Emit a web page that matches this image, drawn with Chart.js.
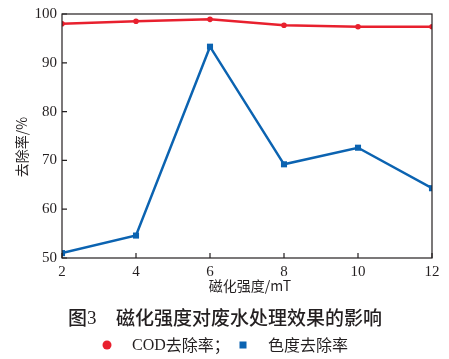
<!DOCTYPE html>
<html><head><meta charset="utf-8">
<script src="https://cdn.jsdelivr.net/npm/chart.js@4"></script>
<style>html,body{margin:0;padding:0;background:#fff}#wrap{width:449px;height:359px;position:relative}
.pre{position:absolute;left:-999px;top:0;font-size:15px}</style>
</head><body>
<span class="pre" style="font-family:'Liberation Serif'">0123456789 COD</span>
<span class="pre" style="font-family:'DejaVu Serif'">0123456789</span>
<span class="pre" style="font-family:'Noto Sans CJK SC'">磁化强度</span>
<div id="wrap"><canvas id="c" width="449" height="359"></canvas></div>
<script>
const fieldStrength = [2, 4, 6, 8, 10, 12];
const codRemoval = [98.0, 98.5, 98.9, 97.7, 97.4, 97.4];
const colorRemoval = [51.0, 54.6, 93.3, 69.2, 72.6, 64.3];
const yTicks = [50, 60, 70, 80, 90, 100];
const xTitle = '磁化强度/mT';
const yTitle = '去除率/%';
const figTitleNum = '图3';
const figTitle = '磁化强度对废水处理效果的影响';
const legendCod = 'COD去除率；';
const legendColor = '色度去除率';

const RED = '#e8202e', BLUE = '#0b63b1', INK = '#231f20';
const SERIF = '"Liberation Serif", "DejaVu Serif", serif';
const CJK = '"Noto Sans CJK SC", sans-serif';

const toPts = arr => arr.map((v, i) => ({x: fieldStrength[i], y: v}));

const decor = {
  id: 'decor',
  afterDraw(chart) {
    const ctx = chart.ctx, a = chart.chartArea;
    const xs = chart.scales.x, ys = chart.scales.y;
    ctx.save();
    ctx.strokeStyle = INK; ctx.lineWidth = 1.2;
    ctx.strokeRect(a.left, a.top, a.right - a.left, a.bottom - a.top);
    ctx.beginPath();
    fieldStrength.forEach(v => { const p = xs.getPixelForValue(v); ctx.moveTo(p, a.bottom); ctx.lineTo(p, a.bottom - 5); });
    yTicks.forEach(v => { const p = ys.getPixelForValue(v); ctx.moveTo(a.left, p); ctx.lineTo(a.left + 5, p); });
    ctx.stroke();
    ctx.fillStyle = INK; ctx.textBaseline = 'middle';
    ctx.font = '14px ' + CJK; ctx.textAlign = 'center';
    ctx.fillText(xTitle, (a.left + a.right) / 2 + 3, 286);
    ctx.save(); ctx.translate(22, 147); ctx.rotate(-Math.PI / 2);
    ctx.fillText(yTitle, 0, 0); ctx.restore();
    ctx.textAlign = 'left';
    ctx.font = '500 19px ' + CJK;
    ctx.fillText('图', 68, 318);
    ctx.font = '19px ' + SERIF;
    ctx.fillText('3', 87, 319);
    ctx.font = '500 19px ' + CJK;
    ctx.fillText(figTitle, 116, 318);
    ctx.fillStyle = RED;
    ctx.beginPath(); ctx.arc(107, 345, 4.5, 0, Math.PI * 2); ctx.fill();
    ctx.fillStyle = BLUE;
    ctx.fillRect(239.5, 341.5, 7, 7);
    ctx.fillStyle = INK;
    ctx.font = '16px ' + SERIF;
    ctx.fillText('COD', 132, 346);
    const w = ctx.measureText('COD').width;
    ctx.font = '16px ' + CJK;
    ctx.fillText(legendCod.slice(3), 132 + w, 345);
    ctx.fillText(legendColor, 268, 345);
    ctx.restore();
  }
};

function draw() {
  new Chart(document.getElementById('c'), {
    type: 'line',
    data: {
      datasets: [
        {label: 'COD去除率', data: toPts(codRemoval), borderColor: RED, backgroundColor: RED,
         borderWidth: 2.5, pointStyle: 'circle', pointRadius: 2.8, pointBorderWidth: 0, tension: 0},
        {label: '色度去除率', data: toPts(colorRemoval), borderColor: BLUE, backgroundColor: BLUE,
         borderWidth: 2.5, pointStyle: 'rect', pointRadius: 4.3, pointBorderWidth: 0, tension: 0}
      ]
    },
    options: {
      responsive: false, animation: false, devicePixelRatio: 1,
      layout: {padding: {left: 0, top: 11, right: 17, bottom: 0}},
      plugins: {legend: {display: false}, title: {display: false}, tooltip: {enabled: false}},
      scales: {
        x: {type: 'linear', min: 2, max: 12,
          afterFit: s => { s.height = 101; },
          afterBuildTicks: s => { s.ticks = fieldStrength.map(v => ({value: v})); },
          grid: {display: false, drawTicks: false}, border: {display: false},
          ticks: {padding: 5, color: INK, font: {family: SERIF, size: 15}, maxRotation: 0}},
        y: {min: 50, max: 100,
          afterFit: s => { s.width = 62; },
          afterBuildTicks: s => { s.ticks = yTicks.map(v => ({value: v})); },
          grid: {display: false, drawTicks: false}, border: {display: false},
          ticks: {padding: 5, color: INK, font: {family: SERIF, size: 15}}}
      }
    },
    plugins: [decor]
  });
}
Promise.all([
  document.fonts.load('15px "Liberation Serif"'),
  document.fonts.load('15px "DejaVu Serif"'),
  document.fonts.load('19px "Noto Sans CJK SC"')
]).catch(() => {}).then(() => document.fonts.ready).then(draw, draw);
</script></body></html>
